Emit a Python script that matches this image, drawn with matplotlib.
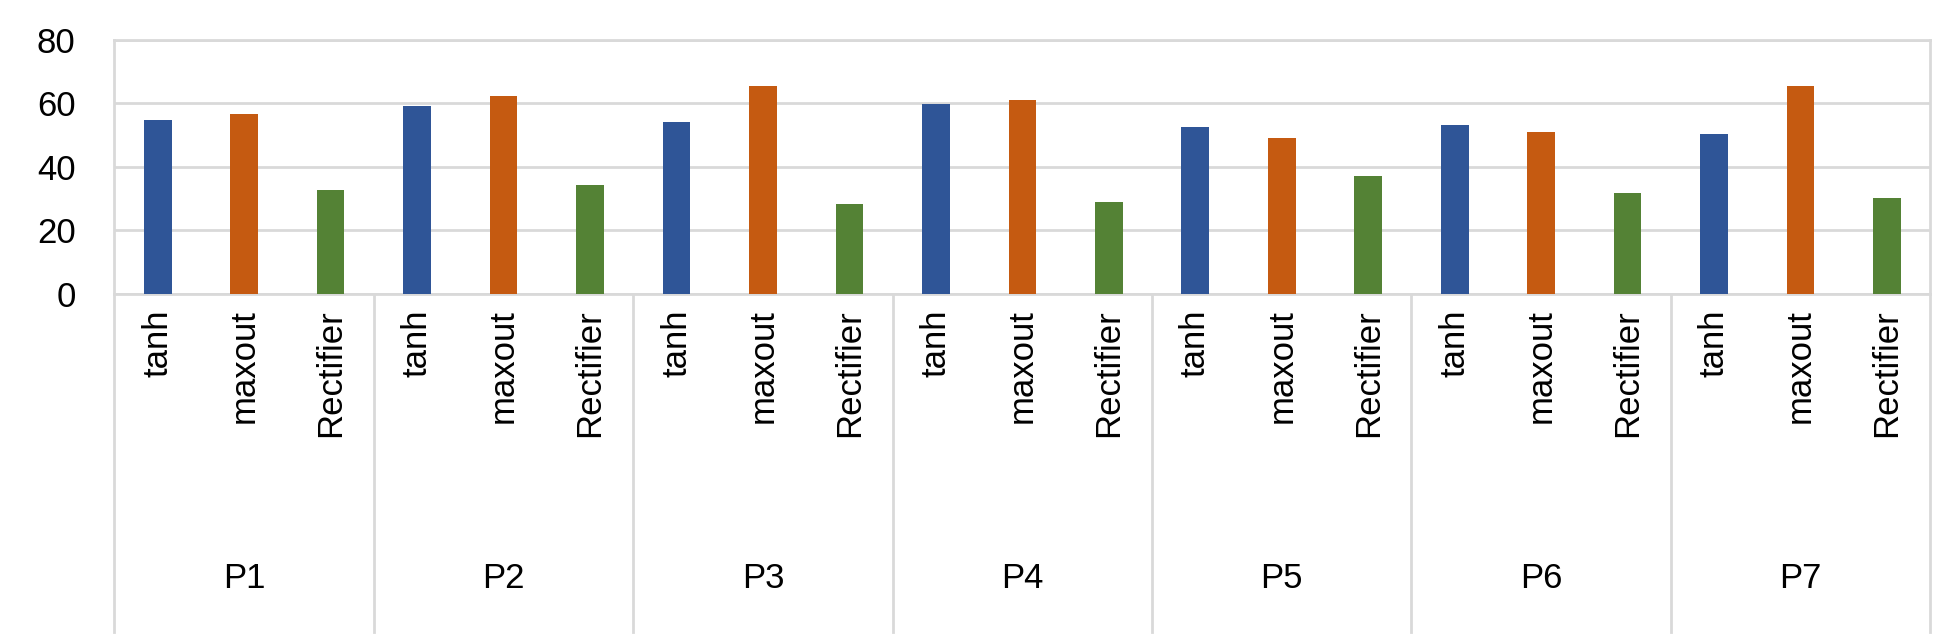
import numpy as np
import matplotlib
matplotlib.use('Agg')
import matplotlib.pyplot as plt
from matplotlib.transforms import blended_transform_factory

groups = ['P1', 'P2', 'P3', 'P4', 'P5', 'P6', 'P7']
series = ['tanh', 'maxout', 'Rectifier']
tanh = [54.8, 59.2, 54.2, 59.8, 52.6, 53.2, 50.4]
maxout = [56.7, 62.4, 65.5, 61.1, 49.1, 51.0, 65.5]
rectifier = [32.8, 34.3, 28.3, 29.0, 37.2, 31.8, 30.2]
colors = ['#2F5597', '#C55A11', '#548235']

plt.rcParams['font.family'] = ['Liberation Sans', 'DejaVu Sans']
fig = plt.figure(figsize=(19.4, 6.43), dpi=100)
ax = fig.add_axes([0.059, 0.543, 0.936, 0.395])

n = len(groups)
x = np.arange(n * 3)
vals = [tanh, maxout, rectifier]
for s in range(3):
    ax.bar(x[s::3], vals[s], width=0.32, color=colors[s], zorder=3)

ax.set_xlim(-0.5, n * 3 - 0.5)
ax.set_ylim(0, 80)
ax.set_yticks([0, 20, 40, 60, 80])
ax.yaxis.grid(True, color='#D9D9D9', linewidth=2)
ax.set_xticks([])
ax.tick_params(axis='y', length=0, labelsize=25, pad=28)
for side in ['top', 'right', 'left', 'bottom']:
    ax.spines[side].set_color('#D9D9D9')
    ax.spines[side].set_linewidth(2)

tr = blended_transform_factory(ax.transData, ax.transAxes)
for i, xi in enumerate(x):
    ax.text(xi, -0.06, series[i % 3], transform=tr, rotation=90, ha='center', va='top', fontsize=25)
for g in range(n):
    ax.text(g * 3 + 1, -1.12, groups[g], transform=tr, ha='center', va='center', fontsize=25)
for g in range(n + 1):
    ax.plot([g * 3 - 0.5, g * 3 - 0.5], [0, -1.33], transform=tr, color='#D9D9D9', lw=2, clip_on=False)

fig.savefig('out.png')
plt.close(fig)
